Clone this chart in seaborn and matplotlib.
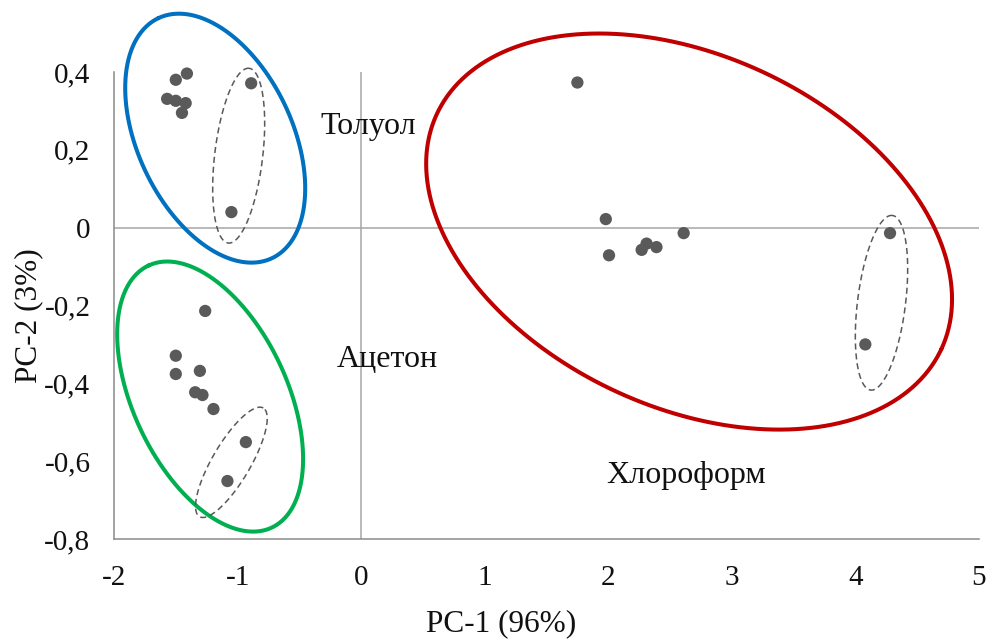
import numpy as np
import pandas as pd
import matplotlib
matplotlib.use("Agg")
import matplotlib.pyplot as plt
import seaborn as sns

# ---- data ----
toluene_x = [-1.41, -1.50, -0.89, -1.57, -1.50, -1.42, -1.45, -1.05]
toluene_y = [0.396, 0.380, 0.371, 0.331, 0.326, 0.320, 0.295, 0.040]

acetone_x = [-1.262, -1.50, -1.50, -1.305, -1.343, -1.284, -1.195, -0.933, -1.082]
acetone_y = [-0.214, -0.329, -0.376, -0.368, -0.423, -0.430, -0.466, -0.551, -0.651]

chloro_x = [1.75, 1.98, 2.006, 2.27, 2.31, 2.39, 2.61, 4.28, 4.08]
chloro_y = [0.373, 0.022, -0.071, -0.057, -0.041, -0.050, -0.014, -0.014, -0.300]

group_names = ["Толуол", "Ацетон", "Хлороформ"]

x_ticks = [-2, -1, 0, 1, 2, 3, 4, 5]
x_tick_labels = ["-2", "-1", "0", "1", "2", "3", "4", "5"]
y_ticks = [-0.8, -0.6, -0.4, -0.2, 0.0, 0.2, 0.4]
y_tick_labels = ["-0,8", "-0,6", "-0,4", "-0,2", "0", "0,2", "0,4"]

x_label = "PC-1 (96%)"
y_label = "PC-2 (3%)"

df = pd.DataFrame({
    "PC1": toluene_x + acetone_x + chloro_x,
    "PC2": toluene_y + acetone_y + chloro_y,
    "group": [group_names[0]] * len(toluene_x) + [group_names[1]] * len(acetone_x)
             + [group_names[2]] * len(chloro_x),
})

# ---- style ----
sns.set_style("white")
plt.rcParams["font.family"] = ["Liberation Serif", "DejaVu Serif"]

W, H, DPI = 9.92, 6.41, 100
fig = plt.figure(figsize=(W, H), dpi=DPI)
ax = fig.add_axes([114 / 992, 102 / 641, 865 / 992, 467 / 641])

XMIN, XMAX, YMIN, YMAX = -2, 5, -0.8, 0.4
ax.set_xlim(XMIN, XMAX)
ax.set_ylim(YMIN, YMAX)

axis_gray = "#8a8a8a"
ax.axhline(0, color="#a6a6a6", lw=1.1, zorder=1)
ax.axvline(0, color="#a6a6a6", lw=1.1, zorder=1)

sns.scatterplot(data=df, x="PC1", y="PC2", color="#5a5a5a", s=78,
                edgecolor="none", linewidth=0, ax=ax, legend=False, zorder=3,
                clip_on=False)

# ellipses: centre in data units, semi-axes in pixels, angle in degrees
bbox = ax.get_position()
kx = bbox.width * W * DPI / (XMAX - XMIN)
ky = bbox.height * H * DPI / (YMAX - YMIN)

def ellipse(cx, cy, a_px, b_px, ang_deg, **kw):
    t = np.linspace(0, 2 * np.pi, 400)
    th = np.deg2rad(ang_deg)
    u = a_px * np.cos(t)
    v = b_px * np.sin(t)
    dx = u * np.cos(th) - v * np.sin(th)
    dy = u * np.sin(th) + v * np.cos(th)
    ax.plot(cx + dx / kx, cy + dy / ky, clip_on=False, zorder=4, **kw)

solid = dict(lw=2.9, solid_capstyle="round")
ellipse(-1.181, 0.230, 132.8, 77.2, 115.35, color="#0070c0", **solid)
ellipse(-1.222, -0.434, 144.8, 76.9, 115.2, color="#00b050", **solid)
ellipse(2.654, -0.010, 278.3, 175.8, -25.0, color="#c00000", **solid)

dashed = dict(lw=1.1, color="#595959", linestyle=(0, (4, 2.5)))
ellipse(-0.991, 0.185, 88, 24, 83.2, **dashed)
ellipse(4.211, -0.193, 88, 24, 82.9, **dashed)
ellipse(-1.050, -0.603, 63, 19, 59.6, **dashed)

# group labels
txt_kw = dict(fontsize=23, color="#111111", ha="center", va="baseline", zorder=5)
ax.text(0.061, 0.2415, group_names[0], **txt_kw)
ax.text(0.214, -0.357, group_names[1], **txt_kw)
ax.text(2.63, -0.655, group_names[2], **txt_kw)

# axes styling
for side in ["top", "right"]:
    ax.spines[side].set_visible(False)
for side in ["left", "bottom"]:
    ax.spines[side].set_color(axis_gray)
    ax.spines[side].set_linewidth(1.1)

ax.set_xticks(x_ticks)
ax.set_xticklabels(x_tick_labels)
ax.set_yticks(y_ticks)
ax.set_yticklabels(y_tick_labels)
ax.tick_params(axis="x", direction="in", length=7, width=1.0, color=axis_gray,
               labelsize=21, pad=19, labelcolor="#111111")
ax.tick_params(axis="y", direction="in", length=6, width=1.0, color=axis_gray,
               labelsize=21, pad=17, labelcolor="#111111")

ax.set_xlabel(x_label, fontsize=22.5, color="#111111")
ax.set_ylabel(y_label, fontsize=22.5, color="#111111")
ax.xaxis.set_label_coords(0.447, -0.15)
ax.yaxis.set_label_coords(-0.082, 0.4775)
ax.grid(False)

fig.savefig("out.png", dpi=DPI)
